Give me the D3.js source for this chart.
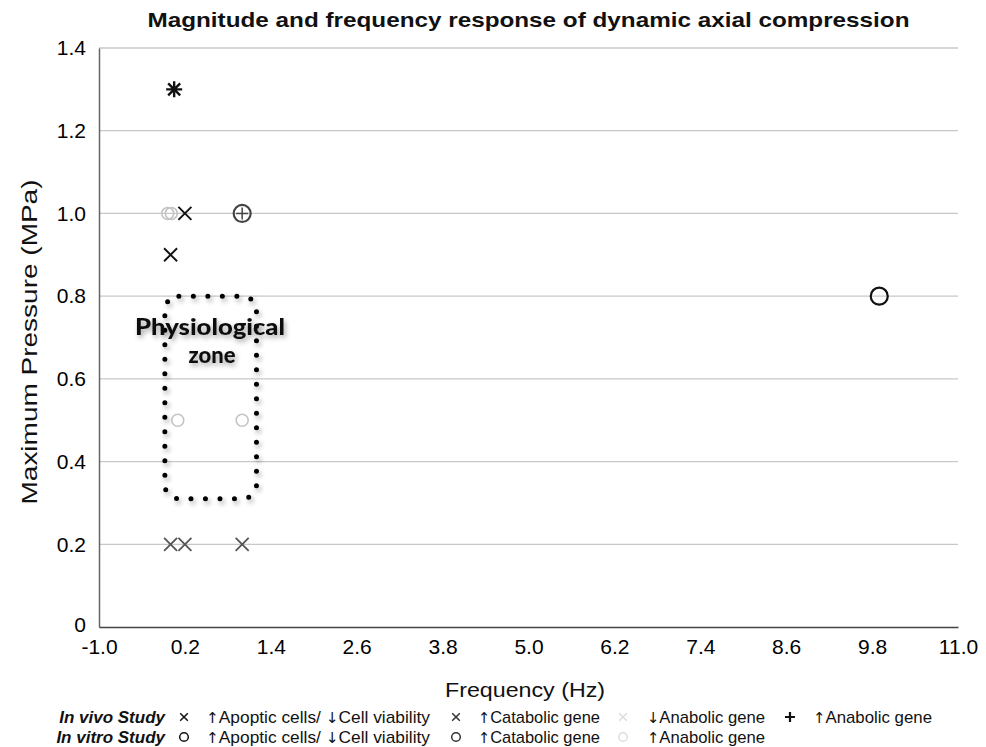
<!DOCTYPE html>
<html><head><meta charset="utf-8">
<script src="https://cdn.jsdelivr.net/npm/d3@7"></script>
<style>body{margin:0;background:#fff}svg{display:block}</style>
</head><body>
<svg id="c" width="986" height="747"></svg>
<script>
// ---- data ----
const xTicks = [-1.0, 0.2, 1.4, 2.6, 3.8, 5.0, 6.2, 7.4, 8.6, 9.8, 11.0];
const yTicks = [0, 0.2, 0.4, 0.6, 0.8, 1.0, 1.2, 1.4];
const inVivoApoptic   = [[0.05, 1.3], [0.2, 1.0], [0.0, 0.9]];
const inVivoCatabolic = [[0.0, 0.2], [0.2, 0.2], [1.0, 0.2]];
const inVivoAnabolicDown = [];
const inVivoAnabolicUp = [[0.05, 1.3], [1.0, 1.0]];
const inVitroApoptic  = [[9.9, 0.8]];
const inVitroCatabolic = [[1.0, 1.0]];
const inVitroAnabolicUp = [[-0.04, 1.0], [0.01, 1.0], [0.1, 0.5], [1.0, 0.5]];
const zoneBox = {x0: -0.08, x1: 1.2, y0: 0.31, y1: 0.8};
const title = "Magnitude and frequency response of dynamic axial compression";

// ---- layout ----
const svg = d3.select("#c");
const x = d3.scaleLinear().domain([-1, 11]).range([99, 958]);
const y = d3.scaleLinear().domain([0, 1.4]).range([627, 48]);
const F = "'Liberation Sans', Arial, sans-serif";
const fmt = d => d3.format(".1f")(d).replace("−", "-");

const defs = svg.append("defs");
const f = defs.append("filter").attr("id","sh").attr("x","-20%").attr("y","-20%").attr("width","140%").attr("height","140%");
f.append("feGaussianBlur").attr("in","SourceAlpha").attr("stdDeviation",2.5).attr("result","b");
f.append("feOffset").attr("in","b").attr("dx",2).attr("dy",3).attr("result","o");
f.append("feComponentTransfer").attr("in","o").attr("result","o2").append("feFuncA").attr("type","linear").attr("slope",0.35);
const fm = f.append("feMerge"); fm.append("feMergeNode").attr("in","o2"); fm.append("feMergeNode").attr("in","SourceGraphic");

// grid
svg.append("g").selectAll("line").data(yTicks.filter(d=>d>0)).join("line")
  .attr("x1", x(-1)).attr("x2", x(11)).attr("y1", d=>y(d)).attr("y2", d=>y(d))
  .attr("stroke", "#c8c8c8").attr("stroke-width", 1.3);

// axes
const yAx = svg.append("g").attr("transform",`translate(${x(-1)},0)`)
  .call(d3.axisLeft(y).tickValues(yTicks).tickSize(0).tickPadding(13).tickFormat(d=>d===0?"0":fmt(d)));
yAx.select(".domain").attr("stroke","#666").attr("stroke-width",1.5);
yAx.selectAll("text").style("font-family",F).style("font-size","21px").attr("fill","#000");
yAx.selectAll(".tick").filter(d=>d===0).select("text").attr("dy","0.2em");
const xAx = svg.append("g").attr("transform",`translate(0,${y(0)})`)
  .call(d3.axisBottom(x).tickValues(xTicks).tickSize(0).tickPadding(12).tickFormat(fmt));
xAx.select(".domain").attr("stroke","#444").attr("stroke-width",1.5);
xAx.selectAll("text").style("font-family",F).style("font-size","21px").attr("fill","#000");

// titles
svg.append("text").attr("x",(x(-1)+x(11))/2).attr("y",27).attr("text-anchor","middle")
  .attr("font-family",F).attr("font-weight","bold").attr("font-size",21).attr("fill","#111")
  .attr("textLength",762).attr("lengthAdjust","spacingAndGlyphs").text(title);
svg.append("text").attr("x",525).attr("y",697).attr("text-anchor","middle")
  .attr("font-family",F).attr("font-size",20).attr("fill","#111")
  .attr("textLength",160).attr("lengthAdjust","spacingAndGlyphs").text("Frequency (Hz)");
svg.append("text").attr("transform",`translate(37,342) rotate(-90)`).attr("text-anchor","middle")
  .attr("font-family",F).attr("font-size",22).attr("fill","#111")
  .attr("textLength",325).attr("lengthAdjust","spacingAndGlyphs").text("Maximum Pressure (MPa)");

// zone box
svg.append("rect").attr("x",x(zoneBox.x0)).attr("y",y(zoneBox.y1))
  .attr("width",x(zoneBox.x1)-x(zoneBox.x0)).attr("height",y(zoneBox.y0)-y(zoneBox.y1))
  .attr("rx",14).attr("fill","none").attr("stroke","#000").attr("stroke-width",5)
  .attr("stroke-linecap","round").attr("stroke-dasharray","0 14.5").attr("filter","url(#sh)");
const zx = 210;
const zt = svg.append("g").attr("font-family","'Lato','Open Sans',sans-serif")
  .attr("font-weight","900").attr("font-size",22).attr("fill","#111").attr("filter","url(#sh)");
zt.append("text").attr("x",zx).attr("y",335).attr("text-anchor","middle")
  .attr("textLength",150).attr("lengthAdjust","spacingAndGlyphs").text("Physiological");
zt.append("text").attr("x",zx+2).attr("y",363).attr("text-anchor","middle").text("zone");

// marker helpers
function cross(g, cx, cy, s, col, w){ g.append("path").attr("d",`M${cx-s},${cy-s}L${cx+s},${cy+s}M${cx-s},${cy+s}L${cx+s},${cy-s}`).attr("stroke",col).attr("stroke-width",w).attr("fill","none"); }
function plus(g, cx, cy, s, col, w){ g.append("path").attr("d",`M${cx-s},${cy}L${cx+s},${cy}M${cx},${cy-s}L${cx},${cy+s}`).attr("stroke",col).attr("stroke-width",w).attr("fill","none"); }
function circ(g, cx, cy, r, col, w){ g.append("circle").attr("cx",cx).attr("cy",cy).attr("r",r).attr("stroke",col).attr("stroke-width",w).attr("fill","none"); }

const pts = svg.append("g");
inVitroAnabolicUp.forEach(d=>circ(pts,x(d[0]),y(d[1]),6,"#c4c4c4",1.6));
inVivoAnabolicDown.forEach(d=>cross(pts,x(d[0]),y(d[1]),6,"#ddd",1.6));
inVivoCatabolic.forEach(d=>cross(pts,x(d[0]),y(d[1]),6.5,"#555",1.8));
inVitroCatabolic.forEach(d=>circ(pts,x(d[0]),y(d[1]),8.5,"#444",2.2));
inVivoApoptic.forEach(d=>cross(pts,x(d[0]),y(d[1]),d[1]>1.2?6:6.5,"#111",d[1]>1.2?2.4:1.9));
inVivoAnabolicUp.forEach(d=>plus(pts,x(d[0]),y(d[1]),d[1]>1.2?8:6,d[1]>1.2?"#111":"#444",d[1]>1.2?2.4:1.5));
inVitroApoptic.forEach(d=>circ(pts,x(d[0]),y(d[1]),8.5,"#111",2.2));
pts.selectAll(".dot").data(inVivoApoptic.filter(d=>d[1]>1.2)).join("circle")
  .attr("cx",d=>x(d[0])).attr("cy",d=>y(d[1])).attr("r",3).attr("fill","#111");

// legend
const lg = svg.append("g").attr("font-family",F).attr("font-size",17).attr("fill","#111");
const rows = [717, 737];
lg.append("text").attr("x",165).attr("y",rows[0]+6).attr("text-anchor","end").attr("font-weight","bold").attr("font-style","italic").text("In vivo Study");
lg.append("text").attr("x",165).attr("y",rows[1]+6).attr("text-anchor","end").attr("font-weight","bold").attr("font-style","italic").text("In vitro Study");
const legItems = [
  {row:0, mx:184, type:"x", col:"#111", tx:206, w:224, label:"↑Apoptic cells/ ↓Cell viability"},
  {row:0, mx:456, type:"x", col:"#333", tx:478, w:122, label:"↑Catabolic gene"},
  {row:0, mx:623, type:"x", col:"#ddd", tx:647, w:118, label:"↓Anabolic gene"},
  {row:0, mx:790, type:"+", col:"#111", tx:813, w:119, label:"↑Anabolic gene"},
  {row:1, mx:184, type:"o", col:"#111", tx:206, w:224, label:"↑Apoptic cells/ ↓Cell viability"},
  {row:1, mx:456, type:"o", col:"#333", tx:478, w:122, label:"↑Catabolic gene"},
  {row:1, mx:623, type:"o", col:"#ddd", tx:647, w:118, label:"↑Anabolic gene"}
];
legItems.forEach(it=>{
  const cy = rows[it.row];
  if(it.type==="x") cross(lg,it.mx,cy,3.8,it.col,1.5);
  else if(it.type==="+") plus(lg,it.mx,cy,5,it.col,2.2);
  else circ(lg,it.mx,cy,4.3,it.col,1.5);
  const t = lg.append("text").attr("x",it.tx).attr("y",cy+6).attr("textLength",it.w).attr("lengthAdjust","spacingAndGlyphs");
  it.label.split(/([↑↓])/).filter(s=>s.length).forEach(s=>{
    const ts = t.append("tspan").text(s);
    if(s==="↑"||s==="↓") ts.attr("font-family","'DejaVu Sans', sans-serif").attr("font-size",15).attr("fill","#111");
  });
});
</script>
</body></html>
